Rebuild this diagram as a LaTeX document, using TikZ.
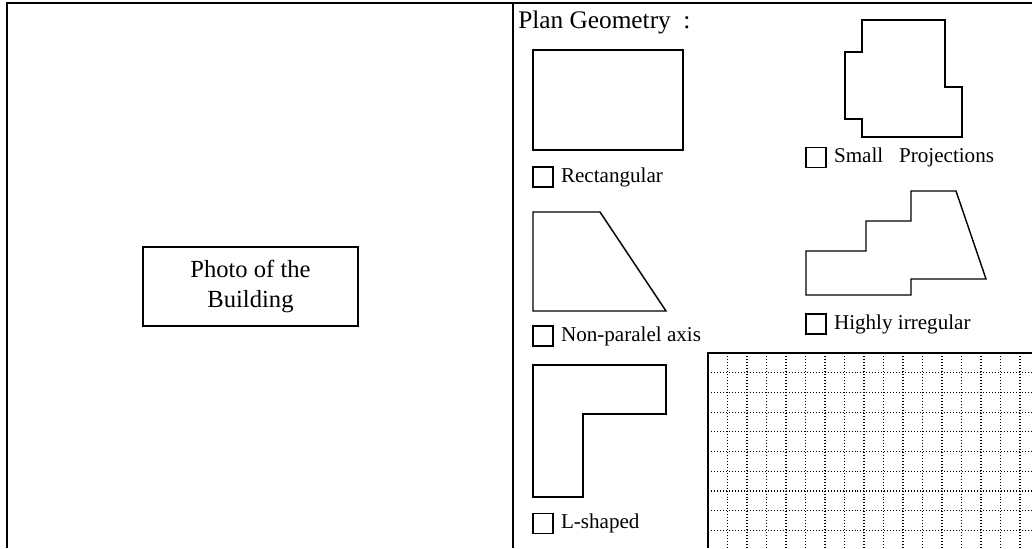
\documentclass[tikz,border=0pt]{standalone}
\usepackage{fontspec}
\setmainfont{Liberation Serif}
\usetikzlibrary{positioning}
\tikzstyle{frame} = [draw, line width=1.5pt]
\tikzstyle{plan} = [draw, line width=1pt, line join=miter]
\tikzstyle{tickbox} = [rectangle, draw, line width=0.8pt, minimum width=0.5cm, minimum height=0.5cm, inner sep=0pt]
\tikzstyle{tag} = [inner sep=0pt, anchor=west, font=\fontsize{15}{17}\selectfont]
\tikzstyle{gridline} = [draw, line width=0.85pt, dash pattern=on 0.7087pt off 1.4173pt]

\begin{document}
\begin{tikzpicture}[x=0.025cm, y=-0.025cm, node distance=0.18cm]
\useasboundingbox (0,0) rectangle (1032,548);
% form frame
\coordinate (topleft) at (7,3);
\coordinate (topright) at (1032,3);
\coordinate (botleft) at (7,548);
\coordinate (divtop) at (513,3);
\coordinate (divbot) at (513,548);
\draw [frame] (botleft) -- (topleft) -- (topright);
\draw [line width=1pt] (divtop) -- (divbot);
% photo
\node [rectangle, draw, line width=0.9pt, minimum width=5.375cm, minimum height=1.975cm, align=center, font=\fontsize{17.5}{21}\selectfont] (photo) at (250.5,286.5) {Photo of the\\Building};
% plan geometry
\node [anchor=west, inner sep=0pt, font=\fontsize{18}{20}\selectfont] (plantitle) at (518,22) {Plan Geometry\ \ :};
\draw [plan] (533,50) rectangle (683,150);
\draw [plan] (533,212) -- (600,212) -- (666,311) -- (533,311) -- cycle;
\draw [plan] (533,365) -- (666,365) -- (666,414) -- (583,414) -- (583,497) -- (533,497) -- cycle;
\draw [plan] (862,20) -- (945,20) -- (945,87) -- (962,87) -- (962,137) -- (862,137) -- (862,119) -- (845,119) -- (845,52) -- (862,52) -- cycle;
\draw [plan] (806,251) -- (866,251) -- (866,221) -- (911,221) -- (911,191) -- (956,191) -- (986,279) -- (911,279) -- (911,295) -- (806,295) -- cycle;
% check boxes
\node [tickbox] (chkrect) at (543,177) {};
\node [tag, right=of chkrect] (lblrect) {Rectangular};
\node [tickbox] (chktrap) at (543,336) {};
\node [tag, right=of chktrap] (lbltrap) {Non-paralel axis};
\node [tickbox] (chkell) at (543,523.5) {};
\node [tag, right=of chkell] (lblell) {L-shaped};
\node [tickbox] (chkproj) at (816,157.5) {};
\node [tag, right=of chkproj] (lblproj) {Small~~~Projections};
\node [tickbox] (chkirreg) at (816,324) {};
\node [tag, right=of chkirreg] (lblirreg) {Highly irregular};
% sketch grid
\foreach \i in {1,...,16}
  \path [gridline] (708+19.5*\i,353) -- (708+19.5*\i,548);
\foreach \j in {1,...,9}
  \path [gridline] (708,353+19.7*\j) -- (1032,353+19.7*\j);
\draw [frame] (708,548) -- (708,353) -- (1032,353);
\end{tikzpicture}
\end{document}
